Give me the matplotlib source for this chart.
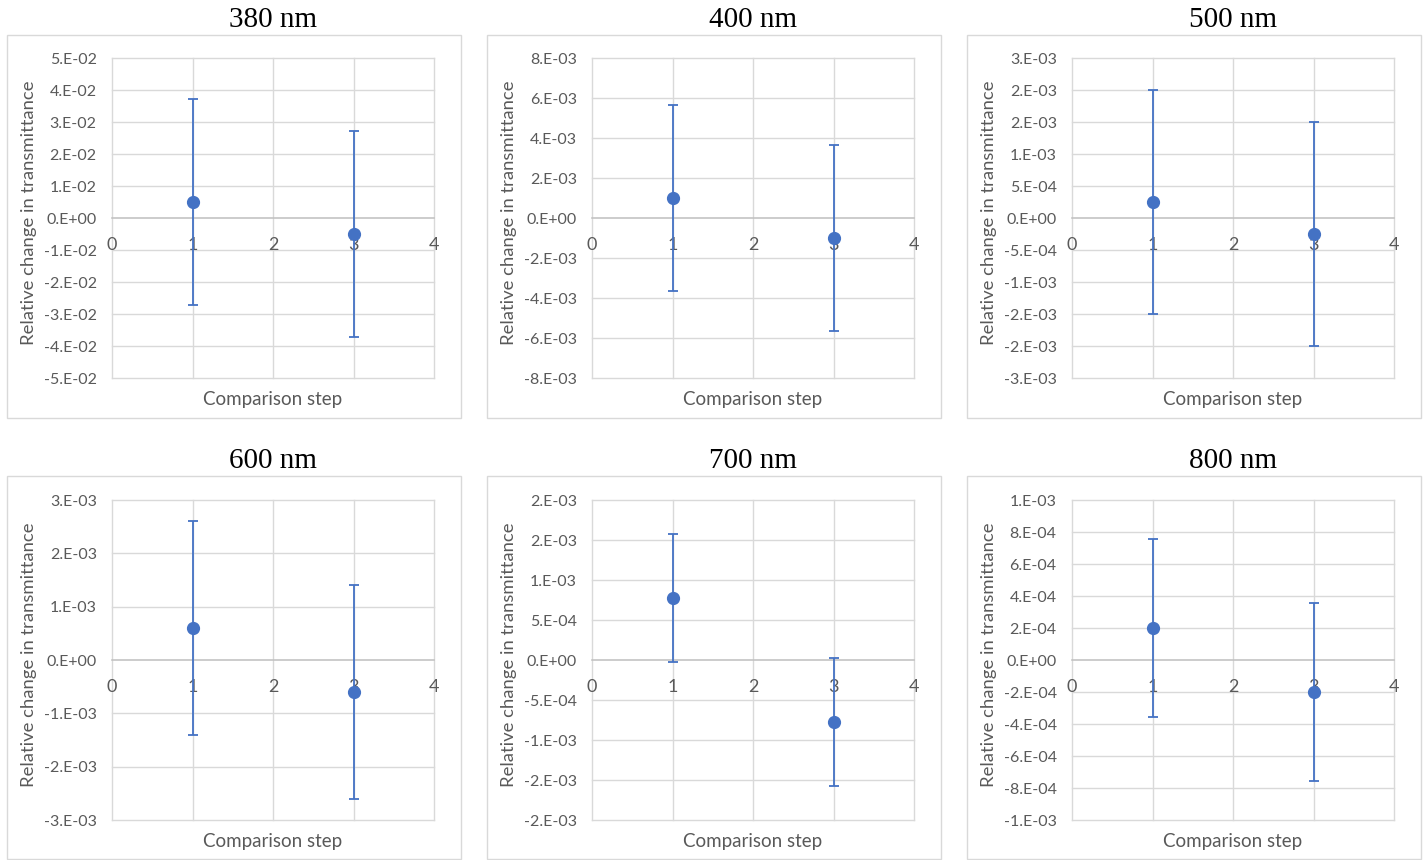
import math
import matplotlib
matplotlib.use('Agg')
import matplotlib.pyplot as plt
from matplotlib.patches import Rectangle

# wavelength panels, two comparison steps each
wavelengths = ['380 nm', '400 nm', '500 nm', '600 nm', '700 nm', '800 nm']
steps = [1, 3]
means = [
    [5.0e-3, -5.0e-3],
    [1.0e-3, -1.0e-3],
    [2.5e-4, -2.5e-4],
    [6.0e-4, -6.0e-4],
    [7.8e-4, -7.8e-4],
    [2.0e-4, -2.0e-4],
]
errors = [
    [3.22e-2, 3.22e-2],
    [4.65e-3, 4.65e-3],
    [1.75e-3, 1.75e-3],
    [2.0e-3, 2.0e-3],
    [8.0e-4, 8.0e-4],
    [5.58e-4, 5.58e-4],
]
# y axis bound and major unit for each panel
y_bounds = [5e-2, 8e-3, 2.5e-3, 3e-3, 2e-3, 1e-3]
y_units = [1e-2, 2e-3, 5e-4, 1e-3, 5e-4, 2e-4]
x_ticks = [0, 1, 2, 3, 4]

BLUE = '#4472C4'
GRID = '#d9d9d9'
ZERO = '#bfbfbf'
TEXT = '#595959'
SANS = 'Lato'


def excel_sci(v):
    # number format "0.E+00", rounding half away from zero
    if abs(v) < 1e-15:
        return '0.E+00'
    e = math.floor(math.log10(abs(v)) + 1e-12)
    m = abs(v) / 10 ** e
    r = math.floor(m + 0.5 + 1e-9)
    if r >= 10:
        r //= 10
        e += 1
    sign = '-' if v < 0 else ''
    return f'{sign}{r}.E{e:+03d}'


W, H = 1426, 860
fig = plt.figure(figsize=(W / 100, H / 100), dpi=100)

box_x = [7, 487, 967]
box_y = [35, 476]
box_w, box_h = 454, 383
plot_dx, plot_w = 105, 322
plot_top = [58, 500]
plot_h = 320

for i, name in enumerate(wavelengths):
    r, c = divmod(i, 3)
    bx, by = box_x[c], box_y[r]
    fig.patches.append(Rectangle((bx / W, 1 - (by + box_h) / H), box_w / W, box_h / H,
                                 transform=fig.transFigure, fill=False,
                                 edgecolor=GRID, linewidth=1))
    px = bx + plot_dx
    py = plot_top[r]
    ax = fig.add_axes([px / W, 1 - (py + plot_h) / H, plot_w / W, plot_h / H])
    ax.set_facecolor('none')
    for s in ax.spines.values():
        s.set_visible(False)

    lim = y_bounds[i]
    unit = y_units[i]
    n = int(round(lim / unit))
    yt = [k * unit for k in range(-n, n + 1)]
    ax.set_xlim(0, 4)
    ax.set_ylim(-lim, lim)

    for y in yt:
        if abs(y) < 1e-15:
            continue
        ax.axhline(y, color=GRID, linewidth=1, zorder=0, clip_on=False)
    for x in x_ticks:
        ax.axvline(x, color=GRID, linewidth=1, zorder=0, clip_on=False)
    ax.axhline(0, color=ZERO, linewidth=1.1, zorder=0.5, clip_on=False)

    ax.set_yticks(yt)
    ax.set_yticklabels([excel_sci(y) for y in yt])
    ax.tick_params(axis='y', length=0, pad=11, labelsize=11.5, labelcolor=TEXT)
    for lbl in ax.get_yticklabels():
        lbl.set_fontfamily(SANS)
    ax.set_xticks([])

    for x in x_ticks:
        ax.annotate(str(x), (x, 0), xytext=(0, -19.5), textcoords='offset points',
                    ha='center', va='center', fontsize=13, color=TEXT,
                    family=SANS, zorder=1, annotation_clip=False)

    ax.errorbar(steps, means[i], yerr=errors[i], fmt='o', color=BLUE,
                ecolor=BLUE, elinewidth=1.3, capsize=3.6, capthick=1.3,
                markersize=8.5, zorder=3)

    fig.text((px + plot_w / 2) / W, 1 - (by - 15) / H, name, ha='center', va='center',
             fontsize=21, family='Liberation Serif', color='black')
    fig.text((bx + 22) / W, 1 - (py + plot_h / 2 - 5) / H,
             'Relative change in transmittance', rotation=90, ha='center',
             va='center', fontsize=13.3, family=SANS, color=TEXT)
    fig.text((px + plot_w / 2) / W, 1 - (py + plot_h + 22) / H, 'Comparison step',
             ha='center', va='center', fontsize=13.5, family=SANS, color=TEXT)

fig.savefig('out.png', dpi=100, facecolor='white')
